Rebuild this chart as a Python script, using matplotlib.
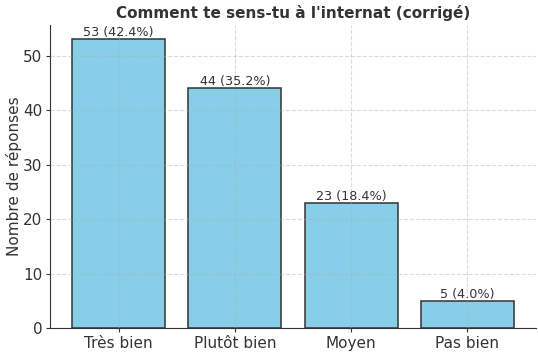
import matplotlib.pyplot as plt

categories = ["Très bien", "Plutôt bien", "Moyen", "Pas bien"]
counts = [53, 44, 23, 5]
percents = [42.4, 35.2, 18.4, 4.0]

dark = "#333333"
fig = plt.figure(figsize=(5.38, 3.52), dpi=100)
ax = fig.add_axes([0.093, 0.068, 0.903, 0.861])
bars = ax.bar(categories, counts, color="skyblue", edgecolor=dark, linewidth=1.1)

for bar, c, p in zip(bars, counts, percents):
    ax.text(bar.get_x() + bar.get_width() / 2, bar.get_height(), f"{c} ({p}%)",
            ha="center", va="bottom", fontsize=9.2, color=dark)

ax.set_title("Comment te sens-tu à l'internat (corrigé)", fontsize=11,
             fontweight="bold", color=dark, pad=5)
ax.set_ylabel("Nombre de réponses", fontsize=11, color=dark, labelpad=1)
ax.tick_params(labelsize=11, colors=dark, length=3, pad=2.5)
ax.grid(True, linestyle="--", alpha=0.45, zorder=3)
ax.set_axisbelow(False)
for s in ["top", "right"]:
    ax.spines[s].set_visible(False)
for s in ["left", "bottom"]:
    ax.spines[s].set_color(dark)

plt.savefig("out.png")
